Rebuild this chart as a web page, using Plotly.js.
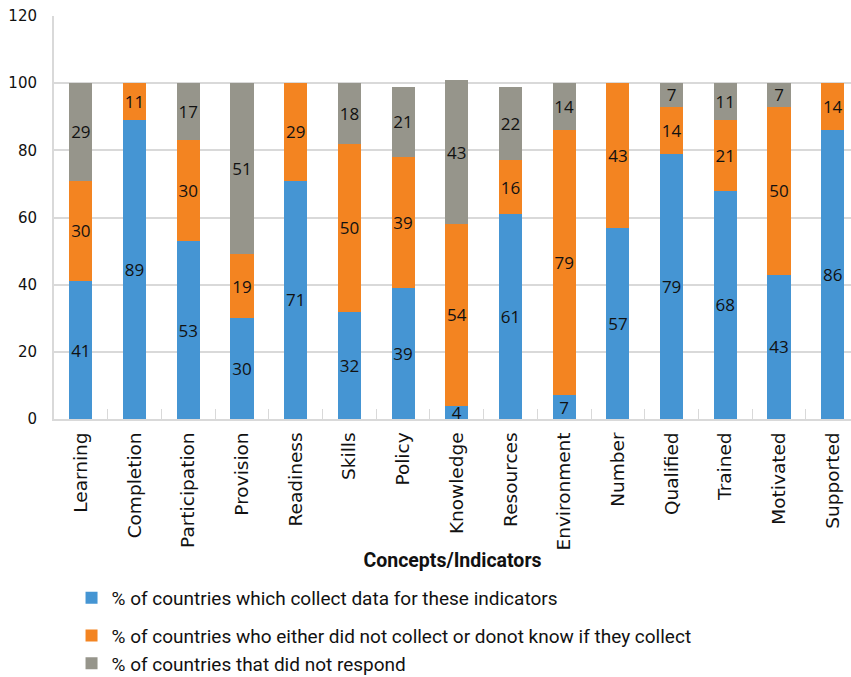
<!DOCTYPE html>
<html>
<head>
<meta charset="utf-8">
<script src="https://cdn.plot.ly/plotly-3.0.1.min.js"></script>
<style>
  html, body { margin: 0; padding: 0; background: #ffffff; }
  #chart { width: 851px; height: 677px; }
</style>
</head>
<body>
<div id="chart"></div>
<script>
// Concepts / indicators along the x axis
const categories = ['Learning', 'Completion', 'Participation', 'Provision', 'Readiness',
  'Skills', 'Policy', 'Knowledge', 'Resources', 'Environment', 'Number',
  'Qualified', 'Trained', 'Motivated', 'Supported'];

// % of countries which collect data for these indicators
const collected = [41, 89, 53, 30, 71, 32, 39, 4, 61, 7, 57, 79, 68, 43, 86];
// % of countries who either did not collect or do not know if they collect
const notCollected = [30, 11, 30, 19, 29, 50, 39, 54, 16, 79, 43, 14, 21, 50, 14];
// % of countries that did not respond (null where there is no segment)
const noResponse = [29, null, 17, 51, null, 18, 21, 43, 22, 14, null, 7, 11, 7, null];

const seriesNames = [
  '% of countries which collect data for these indicators',
  '% of countries who either did not collect or donot know if they collect',
  '% of countries that did not respond'
];
const seriesColors = ['#4595d3', '#f38421', '#96958b'];
// first series sits apart from the other two in the legend
const legendGroups = ['collect', 'other', 'other'];
const yTicks = [0, 20, 40, 60, 80, 100, 120];

const labelFont = { family: 'Open Sans, Liberation Sans, sans-serif', size: 17, color: '#111111' };
const narrowFont = 'Liberation Sans Narrow, Roboto, sans-serif';

function barTrace(values, i) {
  return {
    type: 'bar',
    name: seriesNames[i],
    legendgroup: legendGroups[i],
    x: categories,
    y: values,
    text: values.map(v => (v === null ? '' : String(v))),
    textposition: 'inside',
    insidetextanchor: 'middle',
    constraintext: 'none',
    textangle: 0,
    textfont: labelFont,
    marker: { color: seriesColors[i], line: { width: 0 } },
    width: 0.43,
    hoverinfo: 'skip'
  };
}

const data = [barTrace(collected, 0), barTrace(notCollected, 1), barTrace(noResponse, 2)];

const layout = {
  width: 851,
  height: 677,
  margin: { l: 54, r: 0, t: 16, b: 258, autoexpand: false },
  paper_bgcolor: '#ffffff',
  plot_bgcolor: '#ffffff',
  barmode: 'stack',
  showlegend: true,
  legend: {
    orientation: 'v',
    x: 0.022, xanchor: 'left',
    y: -0.397, yanchor: 'top',
    font: { family: narrowFont, size: 19, color: '#111111' },
    traceorder: 'grouped',
    tracegroupgap: 10,
    itemwidth: 30,
    bgcolor: 'rgba(0,0,0,0)'
  },
  xaxis: {
    type: 'category',
    range: [-0.5, 14.34],
    tickangle: -90,
    tickfont: { family: 'DejaVu Sans, sans-serif', size: 18.5, color: '#111111' },
    ticks: 'inside',
    tickson: 'boundaries',
    ticklen: 10,
    tickcolor: '#d9d9d9',
    showline: true,
    linecolor: '#d9d9d9',
    linewidth: 2,
    showgrid: false,
    zeroline: false,
    ticklabelstandoff: 4,
    title: {
      text: '<b>Concepts/Indicators</b>',
      font: { family: narrowFont, size: 19.5, color: '#111111' },
      standoff: 4
    },
    fixedrange: true
  },
  yaxis: {
    range: [0, 120],
    tickvals: yTicks,
    ticktext: yTicks.map(String),
    tickfont: { family: 'DejaVu Sans, sans-serif', size: 15, color: '#111111' },
    showgrid: true,
    gridcolor: '#d9d9d9',
    gridwidth: 2,
    showline: true,
    linecolor: '#d9d9d9',
    linewidth: 2,
    zeroline: false,
    ticks: '',
    ticklabelstandoff: 12,
    fixedrange: true
  }
};

Plotly.newPlot('chart', data, layout, { displayModeBar: false, staticPlot: true });
</script>
</body>
</html>
